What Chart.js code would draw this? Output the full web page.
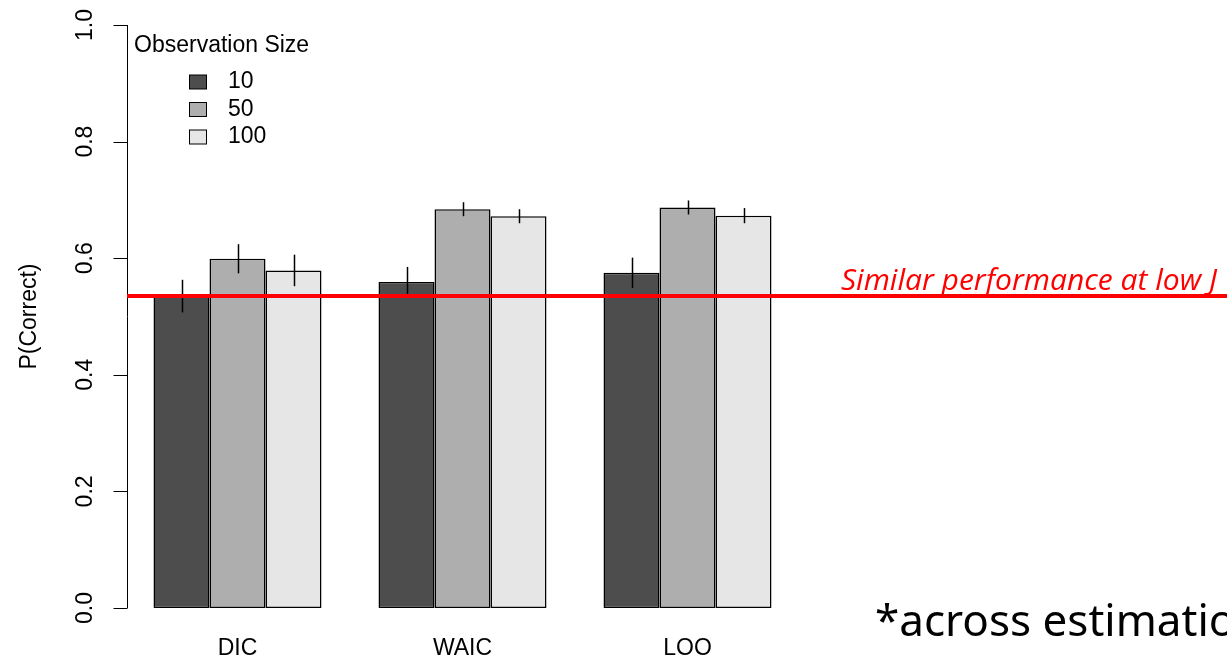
<!DOCTYPE html>
<html>
<head>
<meta charset="utf-8">
<script src="https://cdn.jsdelivr.net/npm/chart.js@4"></script>
<style>
  body { margin: 0; background: #fff; }
  #wrap { width: 1227px; height: 662px; position: relative; overflow: hidden; }
</style>
</head>
<body>
<div id="wrap"><canvas id="perfChart" width="1227" height="662"></canvas></div>
<script>
// data
const methods = ['DIC', 'WAIC', 'LOO'];
const sizes = ['10', '50', '100'];
const size10 = [0.535, 0.559, 0.575];
const size50 = [0.599, 0.684, 0.687];
const size100 = [0.579, 0.672, 0.673];
// half-width of the error bars
const err10 = [0.028, 0.026, 0.026];
const err50 = [0.025, 0.012, 0.012];
const err100 = [0.027, 0.012, 0.013];
const yTicks = [0, 0.2, 0.4, 0.6, 0.8, 1.0];
const yTickLabels = ['0.0', '0.2', '0.4', '0.6', '0.8', '1.0'];
const refLine = 0.535;

const fills = ['#4D4D4D', '#AEAEAE', '#E6E6E6'];
const errs = [err10, err50, err100];
const rFont = '23px "Liberation Sans", Arial, Helvetica, sans-serif';

// everything that is not a bar gets drawn here
const extras = {
    id: 'extras',
    afterDatasetsDraw(chart) {
        const ctx = chart.ctx;
        const y = chart.scales.y;
        const x = chart.scales.x;
        const area = chart.chartArea;

        // error bars
        ctx.save();
        ctx.strokeStyle = '#000';
        ctx.lineWidth = 1.5;
        chart.data.datasets.forEach((ds, i) => {
            chart.getDatasetMeta(i).data.forEach((bar, j) => {
                const v = ds.data[j];
                const e = errs[i][j];
                ctx.beginPath();
                ctx.moveTo(Math.round(bar.x) + 0.5, y.getPixelForValue(v - e));
                ctx.lineTo(Math.round(bar.x) + 0.5, y.getPixelForValue(v + e));
                ctx.stroke();
            });
        });
        ctx.restore();

        // y axis, R style
        const axX = 127.5;
        ctx.save();
        ctx.strokeStyle = '#000';
        ctx.lineWidth = 1;
        ctx.beginPath();
        ctx.moveTo(axX, y.getPixelForValue(yTicks[0]));
        ctx.lineTo(axX, y.getPixelForValue(yTicks[yTicks.length - 1]));
        yTicks.forEach(t => {
            const py = Math.round(y.getPixelForValue(t)) + 0.5;
            ctx.moveTo(axX, py);
            ctx.lineTo(axX - 14, py);
        });
        ctx.stroke();
        ctx.fillStyle = '#000';
        ctx.font = rFont;
        ctx.textAlign = 'center';
        ctx.textBaseline = 'middle';
        yTicks.forEach((t, k) => {
            ctx.save();
            ctx.translate(86, y.getPixelForValue(t));
            ctx.rotate(-Math.PI / 2);
            ctx.fillText(yTickLabels[k], 0, 0);
            ctx.restore();
        });
        ctx.save();
        ctx.translate(30, (y.getPixelForValue(0) + y.getPixelForValue(1)) / 2);
        ctx.rotate(-Math.PI / 2);
        ctx.fillText('P(Correct)', 0, 0);
        ctx.restore();

        // category labels
        methods.forEach((m, k) => {
            ctx.fillText(m, x.getPixelForValue(k), 649);
        });

        // legend
        ctx.textAlign = 'left';
        ctx.fillText('Observation Size', 134, 46);
        sizes.forEach((s, k) => {
            const cy = 82 + k * 27.5;
            ctx.fillStyle = fills[k];
            ctx.fillRect(189.5, cy - 7, 17, 14);
            ctx.strokeRect(189.5, cy - 7, 17, 14);
            ctx.fillStyle = '#000';
            ctx.fillText(s, 228, cy);
        });
        ctx.restore();

        // red reference line + note
        const ry = y.getPixelForValue(refLine);
        ctx.save();
        ctx.strokeStyle = '#FF0000';
        ctx.lineWidth = 4;
        ctx.beginPath();
        ctx.moveTo(area.left + 2, ry);
        ctx.lineTo(chart.width, ry);
        ctx.stroke();
        ctx.fillStyle = '#FF0000';
        ctx.font = 'italic 30px "Open Sans", "Noto Sans", sans-serif';
        ctx.textAlign = 'left';
        ctx.textBaseline = 'alphabetic';
        ctx.fillText('Similar performance at low J', 841, ry - 6);

        ctx.fillStyle = '#000';
        ctx.font = '44px "Noto Sans", "Open Sans", sans-serif';
        ctx.fillText('*across estimation methods', 875, 636);
        ctx.restore();
    }
};

const barStyle = {
    borderColor: '#000000',
    borderWidth: 1.5,
    borderSkipped: false,
    categoryPercentage: 168 / 225,
    barPercentage: 1
};

const chart = new Chart(document.getElementById('perfChart'), {
    type: 'bar',
    data: {
        labels: methods,
        datasets: [
            { label: sizes[0], data: size10, backgroundColor: fills[0], ...barStyle },
            { label: sizes[1], data: size50, backgroundColor: fills[1], ...barStyle },
            { label: sizes[2], data: size100, backgroundColor: fills[2], ...barStyle }
        ]
    },
    options: {
        responsive: false,
        animation: false,
        devicePixelRatio: 1,
        layout: { padding: { left: 125, right: 427, top: 25, bottom: 54 } },
        scales: {
            x: { display: false },
            y: { display: false, min: 0, max: 1 }
        },
        plugins: {
            legend: { display: false },
            tooltip: { enabled: false }
        }
    },
    plugins: [extras]
});
</script>
</body>
</html>
